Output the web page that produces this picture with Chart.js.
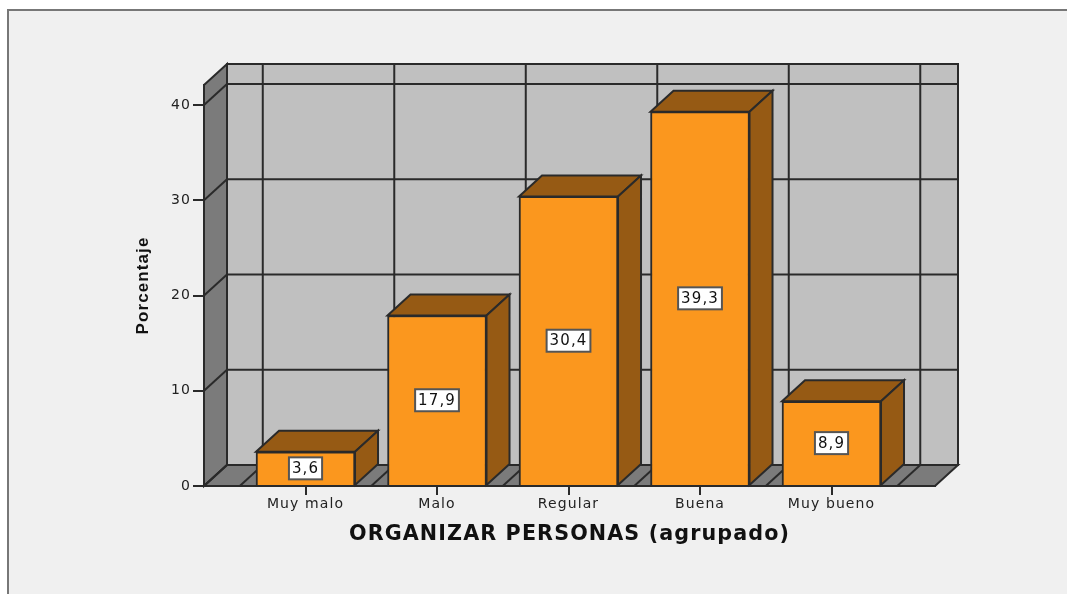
<!DOCTYPE html>
<html><head><meta charset="utf-8">
<style>
html,body{margin:0;padding:0;background:#fff;width:1067px;height:594px;overflow:hidden}
#panel{position:absolute;left:7px;top:9px;width:1060px;height:585px;background:#f0f0f0;border-left:2px solid #777;border-top:2px solid #777;box-sizing:border-box}
#c{position:absolute;left:0;top:0;filter:blur(0.4px)}
</style>
<script src="https://cdn.jsdelivr.net/npm/chart.js@4"></script>
</head><body>
<div id="panel"></div>
<canvas id="c" width="1067" height="594"></canvas>
<script>
const categories = ["Muy malo","Malo","Regular","Buena","Muy bueno"];
const values = [3.6,17.9,30.4,39.3,8.9];
const yTicks = [0,10,20,30,40];
const yTitle = "Porcentaje";
const xTitle = "ORGANIZAR PERSONAS (agrupado)";

const DX = 23, DY = 21;
const INK = "#2a2a2a";
const fmt = v => v.toFixed(1).replace(".", ",");

const scene3d = {
  id: "scene3d",
  beforeDraw(chart){ chart.ctx.letterSpacing = "1.1px"; },
  beforeDatasetsDraw(chart){
    const {ctx, chartArea:a, scales:{x,y}} = chart;
    const poly = (pts, fill) => {
      ctx.beginPath();
      pts.forEach((p,i)=> i?ctx.lineTo(p[0],p[1]):ctx.moveTo(p[0],p[1]));
      ctx.closePath();
      if(fill){ctx.fillStyle=fill;ctx.fill();}
      ctx.stroke();
    };
    const line = (x1,y1,x2,y2) => {ctx.beginPath();ctx.moveTo(x1,y1);ctx.lineTo(x2,y2);ctx.stroke();};
    ctx.save();
    ctx.strokeStyle = INK; ctx.lineWidth = 2; ctx.lineJoin = "miter";
    // back wall, side wall, floor
    poly([[a.left+DX,a.top-DY],[a.right+DX,a.top-DY],[a.right+DX,a.bottom-DY],[a.left+DX,a.bottom-DY]],"#c0c0c0");
    poly([[a.left,a.top],[a.left+DX,a.top-DY],[a.left+DX,a.bottom-DY],[a.left,a.bottom]],"#7b7b7b");
    poly([[a.left,a.bottom],[a.left+DX,a.bottom-DY],[a.right+DX,a.bottom-DY],[a.right,a.bottom]],"#7b7b7b");
    // value gridlines on the walls
    yTicks.forEach(t=>{
      const py = y.getPixelForValue(t);
      line(a.left,py,a.left+DX,py-DY);
      line(a.left+DX,py-DY,a.right+DX,py-DY);
    });
    // category boundaries on floor and back wall
    for(let i=0;i<=categories.length;i++){
      const px = x.getPixelForValue(i-0.5);
      line(px,a.bottom,px+DX,a.bottom-DY);
      line(px+DX,a.bottom-DY,px+DX,a.top-DY);
    }
    // extruded faces of each bar
    chart.getDatasetMeta(0).data.forEach(b=>{
      const l=b.x-b.width/2, r=b.x+b.width/2;
      poly([[l,b.y],[l+DX,b.y-DY],[r+DX,b.y-DY],[r,b.y]],"#965a14");
      poly([[r,b.y],[r+DX,b.y-DY],[r+DX,b.base-DY],[r,b.base]],"#965a14");
    });
    ctx.restore();
  },
  afterDatasetsDraw(chart){
    const {ctx} = chart;
    ctx.save();
    ctx.font = "15px 'DejaVu Sans'";
    ctx.textAlign = "center"; ctx.textBaseline = "middle";
    chart.getDatasetMeta(0).data.forEach((b,i)=>{
      const label=fmt(values[i]);
      const cy=(b.y+b.base)/2, w=ctx.measureText(label).width+6, h=22;
      ctx.fillStyle="#fff"; ctx.strokeStyle="#555"; ctx.lineWidth=2;
      ctx.fillRect(b.x-w/2,cy-h/2,w,h);
      ctx.strokeRect(b.x-w/2,cy-h/2,w,h);
      ctx.fillStyle="#111";
      ctx.fillText(label,b.x,cy+0.5);
    });
    ctx.restore();
  }
};

new Chart(document.getElementById("c"),{
  type:"bar",
  data:{datasets:[{
    data:categories.map((c,i)=>({x:i,y:values[i]})),
    backgroundColor:"#fb971e",
    borderColor:INK,
    borderWidth:2,
    barThickness:99
  }]},
  plugins:[scene3d],
  options:{
    responsive:false,animation:false,
    layout:{padding:{left:133,right:132,top:85,bottom:44}},
    plugins:{legend:{display:false},tooltip:{enabled:false}},
    scales:{
      x:{
        type:"linear",min:-0.772,max:4.787,offset:false,
        afterBuildTicks(s){s.ticks=categories.map((c,i)=>({value:i}));},
        afterFit(s){s.height=64;},
        grid:{offset:false,drawOnChartArea:false,drawTicks:true,tickLength:9,color:INK,lineWidth:2},
        border:{display:true,color:INK,width:2},
        ticks:{autoSkip:false,maxRotation:0,padding:1,color:"#222",font:{family:"DejaVu Sans",size:14},callback:v=>categories[v]},
        title:{display:true,text:xTitle,color:"#111",font:{family:"DejaVu Sans",size:20.7,weight:"bold"},padding:{top:0,bottom:3}}
      },
      y:{
        min:0,max:42.1,
        afterBuildTicks(s){s.ticks=yTicks.map(v=>({value:v}));},
        afterFit(s){s.width=71;},
        grid:{drawOnChartArea:false,drawTicks:true,tickLength:11,color:INK,lineWidth:2},
        border:{display:true,color:INK,width:2},
        ticks:{padding:2,color:"#222",font:{family:"DejaVu Sans",size:14}},
        title:{display:true,text:yTitle,color:"#111",font:{family:"Liberation Sans",size:17,weight:"bold"},padding:{top:0,bottom:0}}
      }
    }
  }
});
</script>
</body></html>
